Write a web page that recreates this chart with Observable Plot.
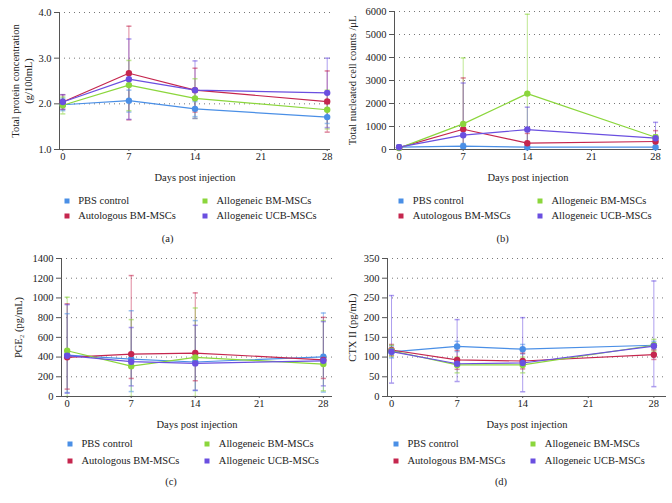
<!DOCTYPE html>
<html><head><meta charset="utf-8">
<script src="https://cdn.jsdelivr.net/npm/d3@7"></script>
<script src="https://cdn.jsdelivr.net/npm/@observablehq/plot@0.6"></script>
<style>
body{margin:0;background:#fff;font-family:"Liberation Serif","Times New Roman","DejaVu Serif",serif;}
#root{position:relative;width:672px;height:503px;overflow:hidden;}
.panel{position:absolute;width:336px;height:252px;}
.panel svg{position:absolute;left:0;top:0;}
.sw{position:absolute;width:5px;height:5px;transform:translate(-50%,-50%);}
.lt{position:absolute;font-size:10.5px;color:#222;white-space:nowrap;transform:translateY(-50%);line-height:12px;}
.cap{position:absolute;font-size:10.5px;color:#222;transform:translate(-50%,-50%);}
</style></head><body><div id="root"></div>
<script>
// ---- data ----
const groups = ["PBS control", "Autologous BM-MSCs", "Allogeneic BM-MSCs", "Allogeneic UCB-MSCs"];
const colors = ["#4a8fe6", "#c5264e", "#8bd63c", "#6a4fe0"];
const sampleDays = [0, 7, 14, 28];
const xTicks = [0, 7, 14, 21, 28];

// (a) Total protein concentration (g/100mL); rows follow groups
const proteinMean = [[1.98, 2.07, 1.89, 1.71], [2.04, 2.67, 2.30, 2.05], [1.97, 2.41, 2.12, 1.87], [2.04, 2.54, 2.30, 2.24]];
const proteinLo = [[1.85, 1.82, 1.72, 1.57], [1.88, 1.65, 1.82, 1.38], [1.78, 1.85, 1.68, 1.45], [1.88, 1.66, 1.68, 1.48]];
const proteinHi = [[2.12, 2.30, 2.05, 1.85], [2.20, 3.70, 2.78, 2.72], [2.15, 2.95, 2.55, 2.30], [2.20, 3.42, 2.94, 3.00]];
const proteinTicks = [1, 2, 3, 4];

// (b) Total nucleated cell counts /uL
const cellMean = [[100, 145, 101, 101], [80, 880, 275, 347], [60, 1113, 2430, 535], [100, 622, 868, 492]];
const cellLo = [[20, 30, 40, 50], [10, 0, 0, 0], [0, 0, 0, 270], [10, 0, 0, 0]];
const cellHi = [[180, 260, 160, 150], [150, 3110, 700, 820], [130, 3980, 5880, 640], [190, 2890, 1840, 1180]];
const cellTicks = [0, 1000, 2000, 3000, 4000, 5000, 6000];

// (c) PGE2 (pg/mL)
const pgeMean = [[420, 380, 350, 403], [397, 430, 441, 372], [464, 308, 397, 329], [414, 353, 336, 362]];
const pgeLo = [[40, 50, 60, 45], [75, 183, 160, 183], [0, 0, 0, 58], [34, 108, 64, 108]];
const pgeHi = [[840, 870, 770, 847], [940, 1227, 1051, 803], [1007, 780, 898, 770], [932, 700, 722, 760]];
const pgeTicks = [0, 200, 400, 600, 800, 1000, 1200, 1400];

// (d) CTX II (pg/mL)
const ctxMean = [[113, 127, 120, 130], [118, 93, 90, 106], [116, 80, 80, 130], [114, 83, 85, 128]];
const ctxLo = [[98, 114, 108, 120], [104, 69, 70, 94], [102, 60, 60, 115], [34, 38, 12, 25]];
const ctxHi = [[128, 140, 132, 140], [132, 117, 110, 118], [130, 100, 100, 145], [256, 195, 200, 293]];
const ctxTicks = [0, 50, 100, 150, 200, 250, 300, 350];

// ---- helpers ----
const FONT = "'Liberation Serif', 'Times New Roman', 'DejaVu Serif', serif";
function toRows(mean, lo, hi) {
  const out = [];
  groups.forEach((g, gi) => sampleDays.forEach((d, di) => out.push({group: g, day: d, v: mean[gi][di], lo: lo[gi][di], hi: hi[gi][di]})));
  return out;
}
const capSymbol = {draw(ctx, size) { const w = Math.sqrt(size / Math.PI) * 1.7; ctx.moveTo(-w, 0); ctx.lineTo(w, 0); }};

function makePanel(o) {
  const data = toRows(o.mean, o.lo, o.hi);
  const W = 336, H = 190;
  const labelMarks = o.ylabels.map(([t, cx]) => Plot.text([t], {text: d => d, frameAnchor: "left", textAnchor: "middle", lineAnchor: "middle", rotate: -90, dx: cx - o.mL, fontSize: 10.5, fill: "#222"}));
  const svg = Plot.plot({
    width: W, height: H,
    marginLeft: o.mL, marginRight: o.mR, marginTop: o.mT, marginBottom: o.mB,
    style: {fontFamily: FONT, fontSize: "10.5px", color: "#222", background: "transparent", overflow: "visible"},
    x: {domain: o.xDomain},
    y: {domain: o.yDomain},
    color: {domain: groups, range: colors},
    marks: [
      Plot.gridY(o.yTicks, {stroke: "#777", strokeOpacity: 1, strokeDasharray: "1,4"}),
      Plot.axisY(o.yTicks, {tickFormat: o.fmt, tickSize: 5, tickPadding: 3, stroke: "#555", label: null}),
      Plot.axisX(xTicks, {tickSize: 2, tickPadding: 1, stroke: "#555", label: null}),
      Plot.ruleX([o.xDomain[0]], {stroke: "#555"}),
      Plot.ruleY([o.yDomain[0]], {stroke: "#555"}),
      Plot.ruleX(data, {x: "day", y1: "lo", y2: "hi", stroke: "group", strokeOpacity: 0.55, clip: true}),
      Plot.dot(data, {x: "day", y: "lo", symbol: capSymbol, r: 1.5, fill: "none", stroke: "group", strokeOpacity: 0.55, clip: true}),
      Plot.dot(data, {x: "day", y: "hi", symbol: capSymbol, r: 1.5, fill: "none", stroke: "group", strokeOpacity: 0.55, clip: true}),
      Plot.line(data, {x: "day", y: "v", z: "group", stroke: "group", strokeWidth: 1.2}),
      Plot.dot(data, {x: "day", y: "v", fill: "group", r: 3.2}),
      ...labelMarks,
      Plot.text(["Days post injection"], {text: d => d, frameAnchor: "bottom", dy: o.xlabDy, lineAnchor: "middle", fontSize: 10.5, fill: "#222"})
    ]
  });
  const div = document.createElement("div");
  div.className = "panel";
  div.style.left = o.left + "px";
  div.style.top = o.top + "px";
  div.appendChild(svg);
  // legend: two columns, filled column-wise
  groups.forEach((g, i) => {
    const col = Math.floor(i / 2), row = i % 2;
    const x = o.leg[0] + col * o.leg[2], y = o.leg[1] + row * o.leg[3];
    const sw = document.createElement("div");
    sw.className = "sw"; sw.style.left = x + "px"; sw.style.top = y + "px"; sw.style.background = colors[i];
    const t = document.createElement("div");
    t.className = "lt"; t.style.left = (x + 11.5) + "px"; t.style.top = y + "px"; t.textContent = g;
    div.appendChild(sw); div.appendChild(t);
  });
  const c = document.createElement("div");
  c.className = "cap"; c.style.left = o.cap[0] + "px"; c.style.top = o.cap[1] + "px"; c.textContent = o.caption;
  div.appendChild(c);
  document.getElementById("root").appendChild(div);
}

makePanel({left: 0, top: 0, mean: proteinMean, lo: proteinLo, hi: proteinHi,
  yDomain: [1, 4], yTicks: proteinTicks, fmt: d3.format(".1f"), xDomain: [-0.35, 28.35],
  mL: 59, mR: 6, mT: 12, mB: 41, xlabDy: 28,
  ylabels: [["Total protein concentration", 15], ["(g/100mL)", 28]],
  leg: [66.7, 201, 138.3, 15.2], cap: [167.7, 238.3], caption: "(a)"});

makePanel({left: 336, top: 0, mean: cellMean, lo: cellLo, hi: cellHi,
  yDomain: [0, 6000], yTicks: cellTicks, fmt: d3.format("d"), xDomain: [-0.5, 28.65],
  mL: 58, mR: 11, mT: 11, mB: 41, xlabDy: 28,
  ylabels: [["Total nucleated cell counts /μL", 16]],
  leg: [65.3, 201, 138.7, 15.2], cap: [166.7, 238.3], caption: "(b)"});

makePanel({left: 0, top: 250, mean: pgeMean, lo: pgeLo, hi: pgeHi,
  yDomain: [0, 1400], yTicks: pgeTicks, fmt: d3.format("d"), xDomain: [-0.62, 29],
  mL: 61, mR: 4, mT: 8, mB: 44, xlabDy: 28,
  ylabels: [["PGE₂ (pg/mL)", 18.3]],
  leg: [70, 194.3, 137.3, 16.4], cap: [171, 231], caption: "(c)"});

makePanel({left: 336, top: 250, mean: ctxMean, lo: ctxLo, hi: ctxHi,
  yDomain: [0, 350], yTicks: ctxTicks, fmt: d3.format("d"), xDomain: [-0.43, 29.35],
  mL: 51, mR: 6, mT: 8, mB: 44, xlabDy: 28,
  ylabels: [["CTX II (pg/mL)", 16]],
  leg: [60, 194.3, 137.3, 16.4], cap: [165, 231], caption: "(d)"});
</script></body></html>
